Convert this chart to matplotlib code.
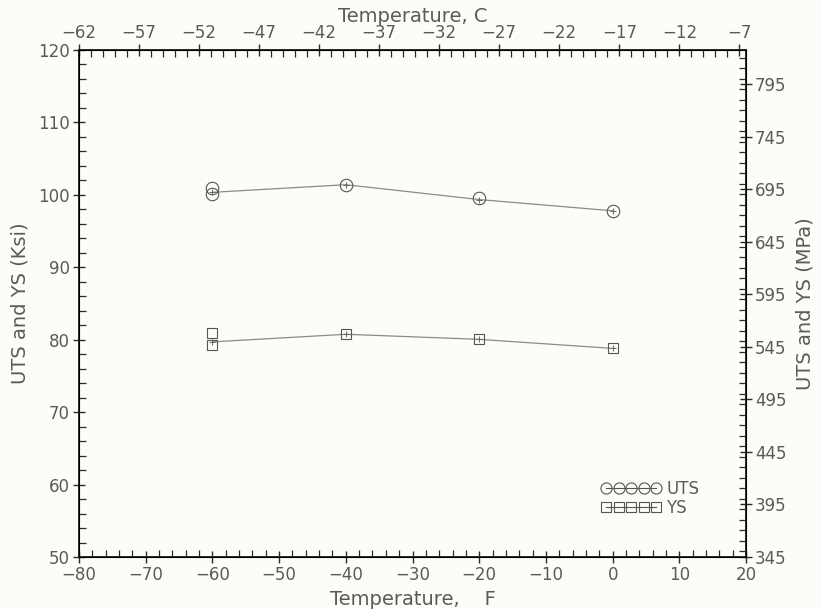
import numpy as np
import matplotlib.pyplot as plt
from matplotlib.lines import Line2D
from matplotlib.ticker import FixedLocator, MultipleLocator

# individual test results
temp_f = [-60, -60, -40, -20, 0]
uts = [100.9, 100.1, 101.4, 99.5, 97.8]
ys = [80.9, 79.3, 80.75, 80.05, 78.8]

# averaged curve
temp_avg = [-60, -40, -20, 0]
uts_avg = [100.35, 101.4, 99.35, 97.8]
ys_avg = [79.7, 80.75, 80.05, 78.8]

KSI_TO_MPA = 6.895
mpa_ticks = [345, 395, 445, 495, 545, 595, 645, 695, 745, 795]

ink = "#5a5a5a"
spine = "#2a2a2a"
lc = "#8a8a8a"

plt.rcParams["font.family"] = "DejaVu Sans"
fig = plt.figure(figsize=(8.22, 6.09), dpi=100, facecolor="#fcfcf8")
ax = fig.add_axes([0.0961, 0.0854, 0.8115, 0.8325])
ax.set_facecolor("#fcfcf8")

ax.plot(temp_avg, uts_avg, "-", color=lc, lw=0.9, marker="+", ms=5, mec="#666666", mew=0.7, zorder=2)
ax.plot(temp_avg, ys_avg, "-", color=lc, lw=0.9, marker="+", ms=5, mec="#666666", mew=0.7, zorder=2)
ax.plot(temp_f, uts, "o", mfc="none", mec="#555555", ms=9, mew=0.8, ls="none", zorder=3)
ax.plot(temp_f, ys, "s", mfc="none", mec="#555555", ms=7.5, mew=0.8, ls="none", zorder=3)

ax.set_xlim(-80, 20)
ax.set_ylim(50, 120)
ax.xaxis.set_major_locator(MultipleLocator(10))
ax.xaxis.set_minor_locator(MultipleLocator(2))
ax.yaxis.set_major_locator(MultipleLocator(10))
ax.yaxis.set_minor_locator(MultipleLocator(2))
ax.set_xlabel("Temperature,    F", fontsize=14, color=ink, labelpad=4)
ax.set_ylabel("UTS and YS (Ksi)", fontsize=14, color=ink, labelpad=6)

for s in ax.spines.values():
    s.set_color(spine)
    s.set_linewidth(1.2)

ax.tick_params(which="major", direction="inout", length=9, width=1, color=spine,
               labelsize=12, labelcolor=ink, pad=2)
ax.tick_params(which="minor", direction="in", length=5, width=0.9, color=spine)

# right axis in MPa
ax_r = ax.twinx()
ax_r.set_ylim(50 * KSI_TO_MPA, 120 * KSI_TO_MPA)
ax_r.yaxis.set_major_locator(FixedLocator(mpa_ticks))
ax_r.yaxis.set_minor_locator(MultipleLocator(10))
ax_r.set_ylabel("UTS and YS (MPa)", fontsize=14, color=ink, labelpad=6)
ax_r.tick_params(which="major", direction="inout", length=9, width=1, color=spine,
                 labelsize=12, labelcolor=ink, pad=2)
ax_r.tick_params(which="minor", direction="in", length=5, width=0.9, color=spine)
for s in ax_r.spines.values():
    s.set_color(spine)
    s.set_linewidth(1.2)

# top axis in Celsius
c_lo = (-80 - 32) / 1.8
c_hi = (20 - 32) / 1.8
c_major = c_lo + 5 * np.arange(12)
ax_t = ax.twiny()
ax_t.set_xlim(c_lo, c_hi)
ax_t.xaxis.set_major_locator(FixedLocator(c_major))
ax_t.xaxis.set_minor_locator(FixedLocator(c_lo + np.arange(56)))
ax_t.set_xticklabels([f"{round(v):d}".replace("-", "\u2212") for v in c_major])
ax_t.set_xlabel("Temperature, C", fontsize=14, color=ink, labelpad=2)
ax_t.tick_params(which="major", direction="inout", length=9, width=1, color=spine,
                 labelsize=12, labelcolor=ink, pad=1)
ax_t.tick_params(which="minor", direction="in", length=5, width=0.9, color=spine)

handles = [
    Line2D([], [], color="#555555", lw=0.8, marker="o", mfc="none", ms=8, mew=0.8),
    Line2D([], [], color="#555555", lw=0.8, marker="s", mfc="none", ms=7, mew=0.8),
]
ax.legend(handles, ["UTS", "YS"], numpoints=5, frameon=False, fontsize=12,
          labelcolor=ink, handlelength=3.6, handletextpad=0.3, labelspacing=0.05,
          loc="lower right", bbox_to_anchor=(0.952, 0.05))

fig.savefig("out.png", dpi=100, facecolor=fig.get_facecolor())
